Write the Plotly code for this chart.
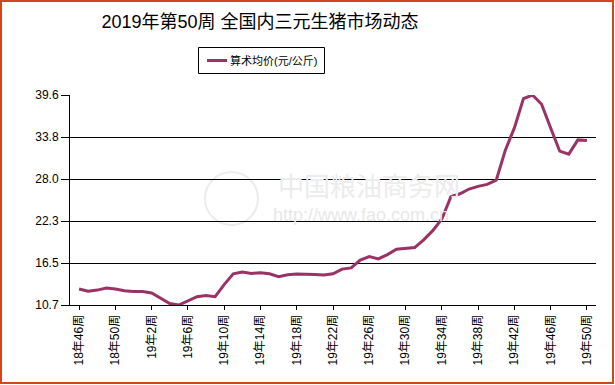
import numpy as np
import plotly.graph_objects as go

# ---- data ----
weeks_2018 = [f"18年{w}周" for w in range(46, 53)]
weeks_2019 = [f"19年{w}周" for w in range(1, 51)]
categories = weeks_2018 + weeks_2019

avg_price = [
    12.9, 12.6, 12.75, 13.05, 12.9, 12.65, 12.55, 12.55, 12.35, 11.65,
    10.9, 10.7, 11.3, 11.85, 12.0, 11.85, 13.5, 15.0, 15.25, 15.05,
    15.15, 15.0, 14.6, 14.85, 14.95, 14.95, 14.9, 14.82, 15.0, 15.64,
    15.8, 16.87, 17.37, 17.05, 17.64, 18.38, 18.47, 18.6, 19.66, 20.93,
    22.54, 25.6, 26.01, 26.66, 27.03, 27.3, 27.89, 32.0, 35.07, 39.11,
    39.6, 38.32, 35.07, 31.87, 31.46, 33.42, 33.34,
]

series_name = "算术均价(元/公斤)"
title_text = "2019年第50周 全国内三元生猪市场动态"
y_tick_labels = ["10.7", "16.5", "22.3", "28.0", "33.8", "39.6"]
x_tick_step = 4

# ---- layout geometry (pixels) ----
W, H = 615, 385
L, R, T, B = 70, 596, 95, 305
pw, ph = R - L, B - T


def px(x):
    return (x - L) / pw


def py(y):
    return (B - y) / ph


x_idx = list(range(len(categories)))
tickvals_x = x_idx[::x_tick_step]
ticktext_x = categories[::x_tick_step]

ymin, ymax = min(avg_price), max(avg_price)
tickvals_y = list(np.linspace(ymin, ymax, len(y_tick_labels)))

font_fam = "Liberation Sans, Arial, Noto Sans CJK SC, sans-serif"
line_color = "#993366"

fig = go.Figure()
fig.add_trace(go.Scatter(
    x=x_idx, y=avg_price, mode="lines", name=series_name,
    line=dict(color=line_color, width=3),
    showlegend=False,
))

fig.update_layout(
    width=W, height=H,
    margin=dict(l=L, r=W - R, t=T, b=H - B, pad=0, autoexpand=False),
    paper_bgcolor="white", plot_bgcolor="white",
    font=dict(family=font_fam, color="#000000"),
    title=dict(text=title_text, x=260 / W, xanchor="center",
               y=1 - 22 / H, yanchor="middle",
               font=dict(size=18, color="#000000", family=font_fam)),
    showlegend=False,
    xaxis=dict(
        range=[-1, len(categories)],
        tickmode="array", tickvals=tickvals_x, ticktext=ticktext_x,
        tickangle=-90, ticks="outside", ticklen=4, tickcolor="#000000",
        showline=True, linecolor="#000000", linewidth=1,
        showgrid=False, zeroline=False, automargin=False,
        tickfont=dict(size=12, color="#000000", family=font_fam),
    ),
    yaxis=dict(
        range=[ymin, ymax],
        tickmode="array", tickvals=tickvals_y, ticktext=y_tick_labels,
        ticks="outside", ticklen=8, tickcolor="#000000",
        showline=True, linecolor="#000000", linewidth=1,
        showgrid=True, gridcolor="#000000", gridwidth=1,
        zeroline=False, automargin=False,
        tickfont=dict(size=12, color="#000000", family=font_fam),
    ),
)

# custom legend box
fig.add_shape(
    type="rect", xref="paper", yref="paper",
    x0=px(198.5), x1=px(324.5), y0=py(73.5), y1=py(47.5),
    line=dict(color="#000000", width=1), fillcolor="white",
)
fig.add_shape(
    type="line", xref="paper", yref="paper",
    x0=px(207), x1=px(227), y0=py(60.5), y1=py(60.5),
    line=dict(color=line_color, width=3),
)
fig.add_annotation(
    text=series_name, xref="paper", yref="paper",
    x=px(228), y=py(60.5), xanchor="left", yanchor="middle",
    showarrow=False, font=dict(size=11, color="#000000", family=font_fam),
)

# watermark
fig.add_annotation(
    text="中国粮油商务网", xref="paper", yref="paper",
    x=px(369), y=py(184), xanchor="center", yanchor="middle",
    showarrow=False, font=dict(size=26, color="#ececec", family="Noto Sans CJK SC"),
)
fig.add_annotation(
    text="http://www.fao.com.cn", xref="paper", yref="paper",
    x=px(361), y=py(215), xanchor="center", yanchor="middle",
    showarrow=False, font=dict(size=18, color="#e8e8e8", family=font_fam),
)
fig.add_shape(
    type="circle", xref="paper", yref="paper", layer="below",
    x0=px(205), x1=px(258), y0=py(225), y1=py(172),
    line=dict(color="#ececec", width=2),
)

# orange frame around whole image
fig.add_shape(
    type="rect", xref="paper", yref="paper",
    x0=px(1), x1=px(613), y0=py(383), y1=py(1),
    line=dict(color="#d2461e", width=2), fillcolor="rgba(0,0,0,0)",
)

fig.write_html(
    "out.html",
    config={"displayModeBar": False},
    post_script="document.body.style.margin='0';document.body.style.padding='0';",
)
